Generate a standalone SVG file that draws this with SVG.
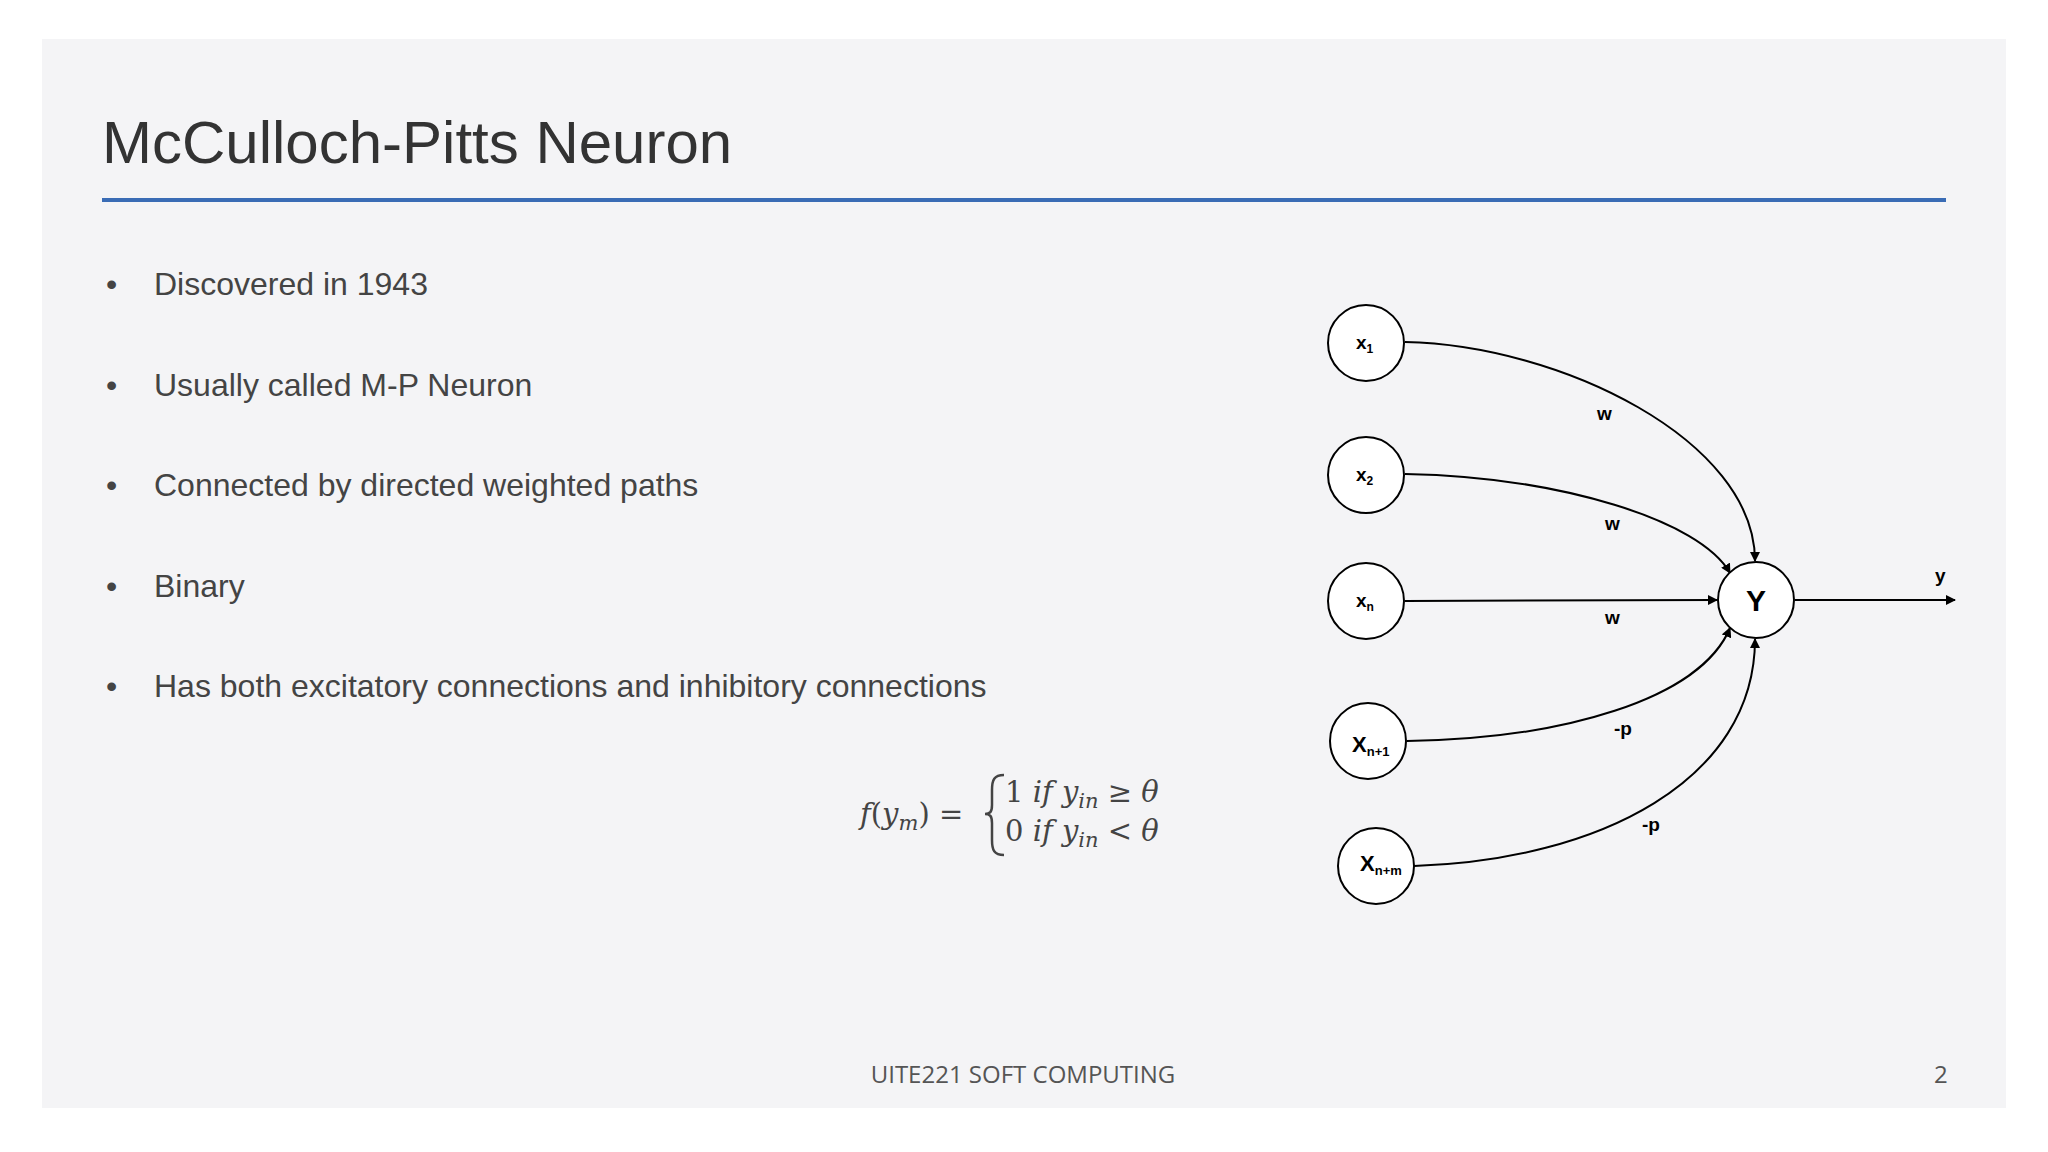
<svg xmlns="http://www.w3.org/2000/svg" width="2048" height="1152" viewBox="0 0 2048 1152">
<defs>
<marker id="ah" markerWidth="10" markerHeight="10" refX="9" refY="5" orient="auto" markerUnits="userSpaceOnUse"><path d="M0,0 L10,5 L0,10 z" fill="#000"/></marker>
<style>
.b{font-family:"Liberation Sans",Arial,sans-serif;font-size:32px;fill:#444}
.n{fill:#fff;stroke:#000;stroke-width:2}
.l{font-family:"Liberation Sans",Arial,sans-serif;font-weight:bold;font-size:19px;fill:#000}
.e{fill:none;stroke:#000;stroke-width:2;marker-end:url(#ah)}
.m{font-family:"DejaVu Serif","Liberation Serif",serif;font-style:italic;font-size:29px;fill:#444}
.r{font-style:normal}
.s{font-size:21px}
</style>
</defs>
<rect width="2048" height="1152" fill="#fff"/>
<rect x="42" y="39" width="1964" height="1069" fill="#f4f4f6"/>
<text x="102" y="163" font-family="Liberation Sans,Arial,sans-serif" font-size="60" fill="#333">McCulloch-Pitts Neuron</text>
<rect x="102" y="198" width="1844" height="4" fill="#3a6cb5"/>
<g class="b">
<text x="106" y="295">•</text><text x="154" y="295">Discovered in 1943</text>
<text x="106" y="396">•</text><text x="154" y="396">Usually called M-P Neuron</text>
<text x="106" y="496">•</text><text x="154" y="496">Connected by directed weighted paths</text>
<text x="106" y="597">•</text><text x="154" y="597">Binary</text>
<text x="106" y="697">•</text><text x="154" y="697">Has both excitatory connections and inhibitory connections</text>
</g>
<g id="formula">
<text class="m" x="860" y="824">f<tspan class="r">(</tspan>y<tspan class="s" dy="6">m</tspan><tspan class="r" dy="-6">) =</tspan></text>
<path d="M1004,775 C994,775 992,780 992,790 L992,805 C992,812 990,814 985,814 C990,814 992,816 992,823 L992,840 C992,850 994,855 1004,855" fill="none" stroke="#444" stroke-width="2.5"/>
<text class="m" x="1005" y="802"><tspan class="r">1</tspan> if y<tspan class="s" dy="6">in</tspan><tspan class="r" dy="-6"> ≥ </tspan>θ</text>
<text class="m" x="1005" y="841"><tspan class="r">0</tspan> if y<tspan class="s" dy="6">in</tspan><tspan class="r" dy="-6"> &lt; </tspan>θ</text>
</g>
<g id="connectors">
<path class="e" d="M1405,342 C1560,345 1755,440 1755,561"/>
<path class="e" d="M1405,474 C1560,477 1700,520 1730,573"/>
<path class="e" d="M1405,601 L1717,600"/>
<path class="e" d="M1407,741 C1560,739 1700,700 1730,628"/>
<path class="e" d="M1414,866 C1600,860 1755,780 1755,639"/>
<path class="e" d="M1795,600 L1955,600"/>
</g>
<g class="l">
<text x="1597" y="420">w</text>
<text x="1605" y="530">w</text>
<text x="1605" y="624">w</text>
<text x="1614" y="735">-p</text>
<text x="1642" y="831">-p</text>
<text x="1935" y="582">y</text>
</g>
<g id="x1"><circle class="n" cx="1366" cy="343" r="38"/><text class="l" x="1356" y="349">x<tspan style="font-size:12px" dy="4">1</tspan></text></g>
<g id="x2"><circle class="n" cx="1366" cy="475" r="38"/><text class="l" x="1356" y="481">x<tspan style="font-size:12px" dy="4">2</tspan></text></g>
<g id="xn"><circle class="n" cx="1366" cy="601" r="38"/><text class="l" x="1356" y="607">x<tspan style="font-size:12px" dy="4">n</tspan></text></g>
<g id="xn1"><circle class="n" cx="1368" cy="741" r="38"/><text class="l" x="1352" y="752" style="font-size:22px">X<tspan style="font-size:13px" dy="4">n+1</tspan></text></g>
<g id="xnm"><circle class="n" cx="1376" cy="866" r="38"/><text class="l" x="1360" y="871" style="font-size:22px">X<tspan style="font-size:13px" dy="4">n+m</tspan></text></g>
<g id="Y"><circle class="n" cx="1756" cy="600" r="38"/><text class="l" x="1756" y="611" style="font-size:30px" text-anchor="middle">Y</text></g>
<text x="1023" y="1083" text-anchor="middle" font-family="Open Sans,Liberation Sans,sans-serif" font-size="24" fill="#555">UITE221 SOFT COMPUTING</text>
<text x="1934" y="1083" font-family="Open Sans,Liberation Sans,sans-serif" font-size="24" fill="#555">2</text>
</svg>
